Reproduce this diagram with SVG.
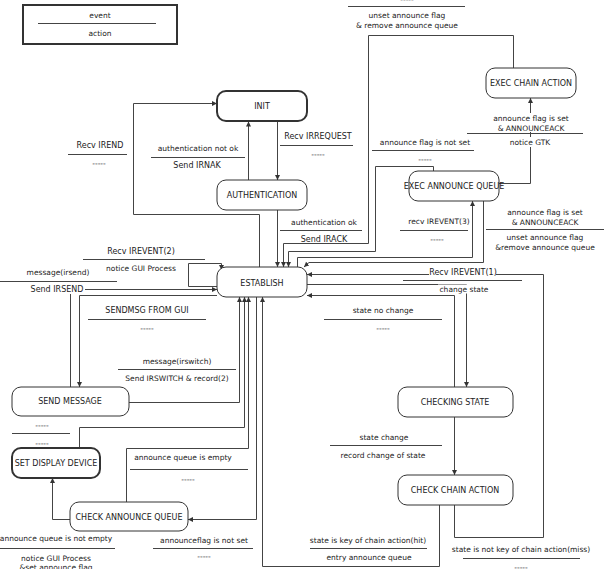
<svg xmlns="http://www.w3.org/2000/svg" width="606" height="569" viewBox="0 0 606 569">
  <style>
    .box { fill: #fff; stroke: #333; stroke-width: 1; }
    .bold { stroke-width: 2; }
    .nt { font-family: "DejaVu Sans", "Liberation Sans", sans-serif; font-size: 8px; fill: #222; text-anchor: middle; dominant-baseline: central; }
    .lb { font-family: "DejaVu Sans", "Liberation Sans", sans-serif; font-size: 7.5px; fill: #222; text-anchor: middle; dominant-baseline: central; }
    .cap { font-size: 8px; }
    .sep { stroke: #444; stroke-width: 1; fill: none; }
    .edge { stroke: #444; stroke-width: 1; fill: none; marker-end: url(#arr); }
    .line { stroke: #444; stroke-width: 1; fill: none; }
    .bg { fill: #fff; }
  </style>
  <defs>
    <marker id="arr" markerUnits="userSpaceOnUse" markerWidth="6" markerHeight="6" refX="5" refY="2.5" orient="auto">
      <path d="M0,0 L5,2.5 L0,5 z" fill="#333"/>
    </marker>
  </defs>
  <rect width="606" height="569" fill="#fff"/>

  <!-- legend -->
  <g id="legend">
    <rect class="box bold" x="23" y="5" width="154" height="39"/>
    <text class="lb" x="100" y="15">event</text>
    <line class="sep" x1="38" y1="23.5" x2="156" y2="23.5"/>
    <text class="lb" x="100" y="33">action</text>
  </g>

  <!-- connectors -->
  <g id="connectors">
    <!-- ESTABLISH -> INIT (Recv IREND) -->
    <path class="edge" d="M259.5,267 V214.5 H133.5 V103.5 H217"/>
    <!-- AUTHENTICATION -> INIT -->
    <path class="edge" d="M248.5,180 V121.5"/>
    <!-- INIT -> AUTHENTICATION -->
    <path class="edge" d="M277.5,121 V180"/>
    <!-- AUTHENTICATION -> ESTABLISH -->
    <path class="edge" d="M277.5,210 V267"/>
    <!-- ESTABLISH self loop -->
    <path class="edge" d="M217,286.5 H188.5 V263.5 H221.5 V270"/>
    <!-- SEND MESSAGE -> ESTABLISH -->
    <path class="edge" d="M70.5,387 V289.5 H217"/>
    <!-- ESTABLISH -> SEND MESSAGE -->
    <path class="edge" d="M217,295.5 H79.5 V387"/>
    <!-- SEND MESSAGE -> ESTABLISH (irswitch) -->
    <path class="edge" d="M129,402.5 H239.5 V297"/>
    <!-- SET DISPLAY DEVICE -> ESTABLISH -->
    <path class="edge" d="M79.5,448 V427.5 H244.5 V297"/>
    <!-- CHECK ANNOUNCE QUEUE -> ESTABLISH -->
    <path class="edge" d="M126.5,502 V448.5 H248.5 V297"/>
    <!-- ESTABLISH -> CHECK ANNOUNCE QUEUE -->
    <path class="edge" d="M256.5,297 V519.5 H188"/>
    <!-- CHECK CHAIN ACTION -> ESTABLISH (hit) -->
    <path class="edge" d="M439.5,505 V566.5 H262.5 V297"/>
    <!-- CHECK ANNOUNCE QUEUE -> SET DISPLAY DEVICE -->
    <path class="edge" d="M70,519.5 H52.5 V478"/>
    <!-- CHECKING STATE -> CHECK CHAIN ACTION -->
    <path class="edge" d="M454.5,417 V475"/>
    <!-- CHECKING STATE -> ESTABLISH (no change) -->
    <path class="edge" d="M454.5,387 V295.5 H307"/>
    <!-- ESTABLISH -> CHECKING STATE -->
    <path class="edge" d="M307,284.5 H466.5 V387"/>
    <!-- CHECK CHAIN ACTION -> ESTABLISH (miss) -->
    <path class="edge" d="M454.5,505 V537.5 H543.5 V274.5 H307"/>
    <!-- EXEC ANNOUNCE QUEUE -> EXEC CHAIN ACTION -->
    <path class="edge" d="M499,183.5 H530.5 V98"/>
    <!-- EXEC CHAIN ACTION -> ESTABLISH -->
    <path class="edge" d="M513.5,68 V35.5 H368.5 V243.5 H283.5 V267"/>
    <!-- EXEC ANNOUNCE QUEUE -> ESTABLISH (flag not set) -->
    <path class="edge" d="M433.5,171 V166.5 H375.5 V251.5 H288.5 V267"/>
    <!-- ESTABLISH -> EXEC ANNOUNCE QUEUE -->
    <path class="edge" d="M297.5,267 V257.5 H472.5 V201"/>
    <!-- EXEC ANNOUNCE QUEUE -> ESTABLISH (flag set) -->
    <path class="edge" d="M483.5,201 V262.5 H309 L304,267"/>
  </g>

  <!-- nodes -->
  <g id="init">
    <rect class="box bold" x="217" y="91" width="90" height="30" rx="9"/>
    <text class="nt" x="262" y="106">INIT</text>
  </g>
  <g id="authentication">
    <rect class="box" x="217" y="180" width="90" height="30" rx="9"/>
    <text class="nt" x="262" y="195">AUTHENTICATION</text>
  </g>
  <g id="establish">
    <rect class="box" x="217" y="267" width="90" height="30" rx="9"/>
    <text class="nt" x="262" y="283">ESTABLISH</text>
  </g>
  <g id="send-message">
    <rect class="box" x="12" y="387" width="117" height="29" rx="9"/>
    <text class="nt" x="70" y="401">SEND MESSAGE</text>
  </g>
  <g id="set-display-device">
    <rect class="box bold" x="12" y="448" width="88" height="30" rx="9"/>
    <text class="nt" x="56" y="463">SET DISPLAY DEVICE</text>
  </g>
  <g id="check-announce-queue">
    <rect class="box" x="70" y="502" width="118" height="29" rx="9"/>
    <text class="nt" x="129" y="517">CHECK ANNOUNCE QUEUE</text>
  </g>
  <g id="checking-state">
    <rect class="box" x="398" y="387" width="115" height="30" rx="9"/>
    <text class="nt" x="455" y="402">CHECKING STATE</text>
  </g>
  <g id="check-chain-action">
    <rect class="box" x="398" y="475" width="115" height="30" rx="9"/>
    <text class="nt" x="455" y="490">CHECK CHAIN ACTION</text>
  </g>
  <g id="exec-announce-queue">
    <rect class="box" x="409" y="171" width="90" height="30" rx="9"/>
    <text class="nt" x="454" y="186">EXEC ANNOUNCE QUEUE</text>
  </g>
  <g id="exec-chain-action">
    <rect class="box" x="486" y="68" width="90" height="30" rx="9"/>
    <text class="nt" x="531" y="83">EXEC CHAIN ACTION</text>
  </g>

  <!-- transition labels: event above the rule, action below -->
  <g id="labels">
    <!-- Recv IREND -->
    <text class="lb cap" x="100" y="145">Recv IREND</text>
    <line class="sep" x1="68" y1="154.5" x2="127" y2="154.5"/>
    <text class="lb" x="99" y="163">-----</text>

    <!-- authentication not ok -->
    <text class="lb" x="198" y="148">authentication not ok</text>
    <line class="sep" x1="151" y1="157.5" x2="245" y2="157.5"/>
    <text class="lb cap" x="197" y="165">Send IRNAK</text>

    <!-- Recv IRREQUEST -->
    <text class="lb cap" x="318" y="136">Recv IRREQUEST</text>
    <line class="sep" x1="280" y1="145.5" x2="353" y2="145.5"/>
    <text class="lb" x="318" y="154">-----</text>

    <!-- authentication ok -->
    <text class="lb" x="324" y="222">authentication ok</text>
    <line class="sep" x1="280" y1="230.5" x2="362" y2="230.5"/>
    <text class="lb cap" x="324" y="239">Send IRACK</text>

    <!-- Recv IREVENT(2) -->
    <text class="lb cap" x="141" y="251">Recv IREVENT(2)</text>
    <line class="sep" x1="83" y1="259.5" x2="205" y2="259.5"/>
    <text class="lb" x="141" y="268">notice GUI Process</text>

    <!-- message(irsend) -->
    <text class="lb" x="58" y="272">message(irsend)</text>
    <line class="sep" x1="0" y1="281.5" x2="117" y2="281.5"/>
    <rect class="bg" x="28" y="284" width="57" height="10"/>
    <text class="lb cap" x="57" y="289">Send IRSEND</text>

    <!-- SENDMSG FROM GUI -->
    <text class="lb cap" x="147" y="310">SENDMSG FROM GUI</text>
    <line class="sep" x1="88" y1="319.5" x2="206" y2="319.5"/>
    <text class="lb" x="147" y="328">-----</text>

    <!-- message(irswitch) -->
    <text class="lb" x="177" y="361">message(irswitch)</text>
    <line class="sep" x1="118" y1="369.5" x2="236" y2="369.5"/>
    <text class="lb" x="177" y="378">Send IRSWITCH &amp; record(2)</text>

    <!-- SET DISPLAY DEVICE -> ESTABLISH -->
    <text class="lb" x="42" y="425">-----</text>
    <line class="sep" x1="12" y1="433.5" x2="70" y2="433.5"/>
    <text class="lb" x="42" y="443">-----</text>

    <!-- announce queue is empty -->
    <text class="lb" x="183" y="457">announce queue is empty</text>
    <line class="sep" x1="130" y1="469.5" x2="248" y2="469.5"/>
    <text class="lb" x="188" y="479">-----</text>

    <!-- announceflag is not set -->
    <text class="lb" x="204" y="540">announceflag is not set</text>
    <line class="sep" x1="153" y1="548.5" x2="253" y2="548.5"/>
    <text class="lb" x="204" y="556">-----</text>

    <!-- announce queue is not empty -->
    <text class="lb" x="56" y="538">announce queue is not empty</text>
    <line class="sep" x1="0" y1="548.5" x2="115" y2="548.5"/>
    <text class="lb" x="56" y="558">notice GUI Process</text>
    <text class="lb" x="56" y="567">&amp;set announce flag</text>

    <!-- state is key of chain action(hit) -->
    <text class="lb" x="368" y="540">state is key of chain action(hit)</text>
    <line class="sep" x1="310" y1="548.5" x2="427" y2="548.5"/>
    <text class="lb" x="369" y="557">entry announce queue</text>

    <!-- state is not key of chain action(miss) -->
    <text class="lb" x="521" y="549">state is not key of chain action(miss)</text>
    <line class="sep" x1="463" y1="558.5" x2="580" y2="558.5"/>
    <text class="lb" x="521" y="567">-----</text>

    <!-- state change -->
    <text class="lb" x="384" y="437">state change</text>
    <line class="sep" x1="330" y1="445.5" x2="442" y2="445.5"/>
    <text class="lb" x="383" y="455">record change of state</text>

    <!-- state no change -->
    <text class="lb" x="383" y="310">state no change</text>
    <line class="sep" x1="324" y1="319.5" x2="442" y2="319.5"/>
    <text class="lb" x="383" y="328">-----</text>

    <!-- Recv IREVENT(1) -->
    <rect class="bg" x="429" y="267" width="67" height="11"/>
    <text class="lb cap" x="463" y="272">Recv IREVENT(1)</text>
    <line class="sep" x1="403" y1="280.5" x2="522" y2="280.5"/>
    <rect class="bg" x="438" y="284.5" width="52" height="9"/>
    <text class="lb" x="464" y="289">change state</text>

    <!-- recv IREVENT(3) -->
    <text class="lb" x="439" y="221">recv IREVENT(3)</text>
    <line class="sep" x1="400" y1="230.5" x2="468" y2="230.5"/>
    <text class="lb" x="437" y="239">-----</text>

    <!-- announce flag is set (queue -> establish) -->
    <text class="lb" x="545" y="212">announce flag is set</text>
    <text class="lb" x="545" y="222">&amp; ANNOUNCEACK</text>
    <line class="sep" x1="486" y1="229.5" x2="604" y2="229.5"/>
    <text class="lb" x="545" y="237">unset announce flag</text>
    <text class="lb" x="545" y="247">&amp;remove announce queue</text>

    <!-- announce flag is not set -->
    <text class="lb" x="425" y="142">announce flag is not set</text>
    <line class="sep" x1="372" y1="150.5" x2="474" y2="150.5"/>
    <text class="lb" x="425" y="159">-----</text>

    <!-- announce flag is set (queue -> chain action) -->
    <rect class="bg" x="490" y="113" width="82" height="19"/>
    <text class="lb" x="531" y="118">announce flag is set</text>
    <text class="lb" x="531" y="128">&amp; ANNOUNCEACK</text>
    <line class="sep" x1="467" y1="133.5" x2="583" y2="133.5"/>
    <rect class="bg" x="507" y="137" width="47" height="10"/>
    <text class="lb" x="530" y="142">notice GTK</text>

    <!-- chain action -> establish -->
    <text class="lb" x="407" y="-1">-----</text>
    <line class="sep" x1="348" y1="6.5" x2="465" y2="6.5"/>
    <text class="lb" x="407" y="15">unset announce flag</text>
    <text class="lb" x="407" y="25">&amp; remove announce queue</text>
  </g>
</svg>
